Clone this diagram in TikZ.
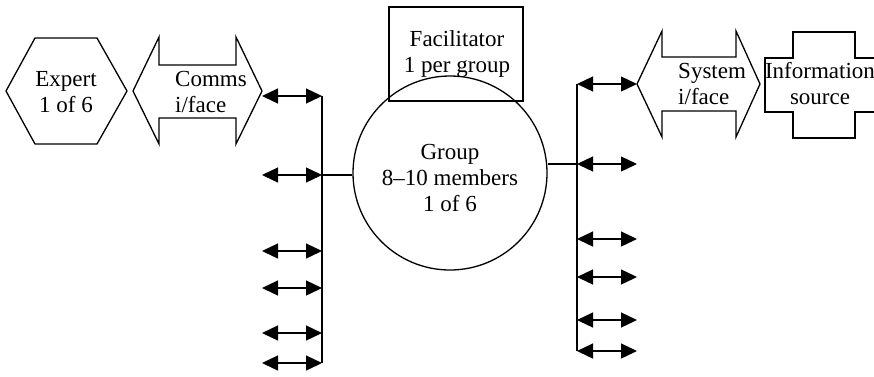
\documentclass[tikz,border=0pt]{standalone}
\usepackage{fontspec}
\setmainfont{Liberation Serif}
\usetikzlibrary{arrows.meta}
\begin{document}
\begin{tikzpicture}[x=1pt,y=-1pt,
  outline/.style={draw=black,line width=1.3pt,line join=miter},
  lbl/.style={inner sep=0pt,font=\fontsize{23}{26}\selectfont},
  biarrow/.style={line width=1.3pt,{Triangle[length=16pt,width=15pt]}-{Triangle[length=16pt,width=15pt]}},
  bus/.style={line width=1.3pt}]
\useasboundingbox (0,0) rectangle (874,376);
% hexagon: Expert
\draw[outline] (6,91) -- (35,38) -- (97,38) -- (127,91) -- (97,144) -- (35,144) -- cycle;
\node[lbl,align=center] (expert) at (66,92) {Expert\\1 of 6};
% Comms interface double arrow
\draw[outline] (133,91) -- (159,37) -- (159,65) -- (236,65) -- (236,37) -- (262,91)
  -- (236,144) -- (236,118) -- (159,118) -- (159,144) -- cycle;
\node[lbl,align=left,anchor=west] (comms) at (175,92) {Comms\\i/face};
% Facilitator box
\draw[outline] (389,7) rectangle (523,101);
\node[lbl,align=center] (facil) at (457,54) {Facilitator\\ 1 per group};
% Group circle
\node[outline,circle,minimum size=194pt,inner sep=0pt] (groupc) at (450,173) {};
\node[lbl,align=center] (group) at (450,178) {Group\\8–10 members\\1 of 6};
% System interface double arrow
\draw[outline] (637,84) -- (662,31) -- (662,57) -- (736,57) -- (736,31) -- (760,84)
  -- (736,137) -- (736,111) -- (662,111) -- (662,137) -- cycle;
\node[lbl,align=left,anchor=west] (sysif) at (678,84) {System\\i/face};
% Information source cross
\draw[outline] (765,58) -- (793,58) -- (793,32) -- (855,32) -- (855,58) -- (878,58)
  -- (878,112) -- (855,112) -- (855,138) -- (793,138) -- (793,112) -- (765,112) -- cycle;
\node[lbl,align=center] (info) at (820,84) {Information\\source};
% left bus
\coordinate (lt) at (322,96);
\coordinate (lb) at (322,363);
\draw[bus] (lt) -- (lb);
\draw[bus] (322,175) -- (groupc.west |- 0,175);
\foreach \y/\n in {96/a,175/b,251/c,288/d,333/e,363/f}{
  \coordinate (la\n) at (262,\y);
  \coordinate (lb\n) at (322,\y);
  \draw[biarrow] (la\n) -- (lb\n);
}
% right bus
\coordinate (rt) at (577,84);
\coordinate (rb) at (577,351);
\draw[bus] (rt) -- (rb);
\draw[bus] (groupc.east |- 0,164) -- (577,164);
\foreach \y/\n in {84/a,164/b,239/c,277/d,320/e,351/f}{
  \coordinate (ra\n) at (577,\y);
  \coordinate (rb\n) at (637,\y);
  \draw[biarrow] (ra\n) -- (rb\n);
}
\end{tikzpicture}
\end{document}
